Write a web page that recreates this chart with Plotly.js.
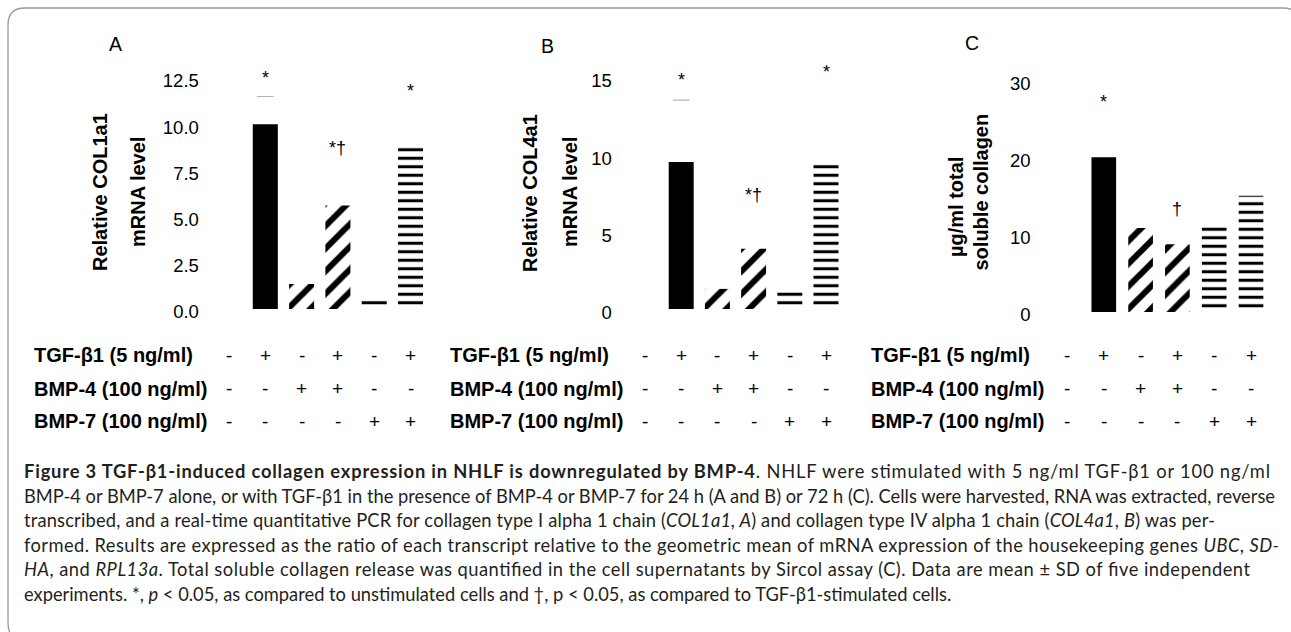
<!DOCTYPE html>
<html>
<head>
<meta charset="utf-8">
<script src="https://cdn.plot.ly/plotly-3.0.1.min.js"></script>
<style>
html,body{margin:0;padding:0;background:#ffffff;}
#chart{width:1291px;height:632px;}
</style>
</head>
<body>
<div id="chart"></div>
<script>
// ---------------- data ----------------
const conditions = ['Control', 'TGF-β1', 'BMP-4', 'TGF-β1 + BMP-4', 'BMP-7', 'TGF-β1 + BMP-7'];
const col1a1 = [null, 10.0, 1.35, 5.6, 0.6, 8.9];          // panel A, relative mRNA
const col1a1Cap = [null, 11.5, null, null, null, null];     // visible SD cap
const col4a1 = [null, 9.5, 1.3, 3.9, 1.3, 9.5];             // panel B, relative mRNA
const col4a1Cap = [null, 13.5, null, null, null, null];
const collagen = [null, 20.1, 10.9, 8.8, 11.4, 15.1];       // panel C, µg/ml
const sigA = ['', '*', '', '*†', '', '*'];
const sigB = ['', '*', '', '*†', '', '*'];
const sigC = ['', '*', '', '†', '', ''];
const tgfRow = ['-', '+', '-', '+', '-', '+'];
const bmp4Row = ['-', '-', '+', '+', '-', '-'];
const bmp7Row = ['-', '-', '-', '-', '+', '+'];
const rowLabels = ['TGF-β1 (5 ng/ml)', 'BMP-4 (100 ng/ml)', 'BMP-7 (100 ng/ml)'];
const ticksA = [0, 2.5, 5, 7.5, 10, 12.5];
const tickTextA = ['0.0', '2.5', '5.0', '7.5', '10.0', '12.5'];
const ticksB = [0, 5, 10, 15];
const ticksC = [0, 10, 20, 30];
const panelLetters = ['A', 'B', 'C'];
const captionLines = [
  '<b>Figure 3 TGF-β1-induced collagen expression in NHLF is downregulated by BMP-4</b>. NHLF were stimulated with 5 ng/ml TGF-β1 or 100 ng/ml',
  'BMP-4 or BMP-7 alone, or with TGF-β1 in the presence of BMP-4 or BMP-7 for 24 h (A and B) or 72 h (C). Cells were harvested, RNA was extracted, reverse',
  'transcribed, and a real-time quantitative PCR for collagen type I alpha 1 chain (<i>COL1a1, A</i>) and collagen type IV alpha 1 chain (<i>COL4a1</i>, <i>B</i>) was per-',
  'formed. Results are expressed as the ratio of each transcript relative to the geometric mean of mRNA expression of the housekeeping genes <i>UBC</i>, <i>SD-</i>',
  '<i>HA</i>, and <i>RPL13a</i>. Total soluble collagen release was quantified in the cell supernatants by Sircol assay (C). Data are mean ± SD of five independent',
  'experiments. *, <i>p</i> &lt; 0.05, as compared to unstimulated cells and †, p &lt; 0.05, as compared to TGF-β1-stimulated cells.'
];

// ---------------- styling ----------------
const W = 1291, H = 632;
const px = v => v / W;
const py = v => (H - v) / H;
const ARIAL = 'Arial, "Liberation Sans", sans-serif';
// bar style of each condition
const barStyle = ['none', 'solid', 'diag', 'diag', 'horiz', 'horiz'];
const styleDefs = {
  solid: {color: '#000000'},
  diag: {color: '#ffffff', pattern: {shape: '/', fgcolor: '#000000', bgcolor: '#ffffff', size: 16, solidity: 0.38}},
  horiz: {color: '#ffffff', pattern: {shape: '-', fgcolor: '#000000', bgcolor: '#ffffff', size: 8.5, solidity: 0.36}}
};

function barTraces(vals, xa, ya, w) {
  return ['solid', 'diag', 'horiz'].map(st => ({
    type: 'bar', x: conditions, y: vals.map((v, i) => barStyle[i] === st ? v : null),
    xaxis: xa, yaxis: ya, width: w,
    marker: Object.assign({line: {width: 0}}, styleDefs[st]),
    hoverinfo: 'skip', showlegend: false
  }));
}
function capTrace(vals, xa, ya) {
  return {
    type: 'scatter', mode: 'markers', x: conditions, y: vals, xaxis: xa, yaxis: ya,
    marker: {symbol: 'line-ew', size: 12, color: '#b5b5b5', line: {color: '#b5b5b5', width: 1.2}},
    hoverinfo: 'skip', showlegend: false
  };
}

const data = [].concat(
  barTraces(col1a1, 'x', 'y', 0.69),
  [capTrace(col1a1Cap, 'x', 'y')],
  barTraces(col4a1, 'x2', 'y2', 0.69),
  [capTrace(col4a1Cap, 'x2', 'y2')],
  barTraces(collagen, 'x3', 'y3', 0.67)
);

function xAxis(d0, d1, anchor) {
  return {domain: [px(d0), px(d1)], range: [-0.5, 5.5], type: 'category', categoryorder: 'array', categoryarray: conditions,
    showticklabels: false, showgrid: false, zeroline: false, showline: false, ticks: '', anchor: anchor, fixedrange: true};
}
function yAxis(bottom, top, range, tv, tt, standoff, shift, anchor) {
  return {domain: [py(bottom), py(top)], range: range, tickvals: tv, ticktext: tt, showgrid: false, zeroline: false,
    showline: false, ticks: '', ticklabelstandoff: standoff, ticklabelshift: shift, anchor: anchor,
    tickfont: {family: ARIAL, size: 18.5, color: '#000000'}, fixedrange: true};
}

const layout = {
  width: W, height: H, margin: {l: 0, r: 0, t: 0, b: 0}, barmode: 'overlay',
  paper_bgcolor: '#ffffff', plot_bgcolor: 'rgba(0,0,0,0)', showlegend: false, hovermode: false,
  xaxis: xAxis(210.85, 428.65, 'y'),
  yaxis: yAxis(309, 69, [0, 240 / 18.48], ticksA, tickTextA, 11, 3, 'x'),
  xaxis2: xAxis(626.9, 844.1, 'y2'),
  yaxis2: yAxis(309, 69, [0, 240 / 15.47], ticksB, ticksB.map(String), 14, 4, 'x2'),
  xaxis3: xAxis(1048.6, 1269.4, 'y3'),
  yaxis3: yAxis(312, 72, [0, 240 / 7.7], ticksC, ticksC.map(String), 17, 3, 'x3'),
  annotations: [],
  shapes: []
};

// rounded frame
(function () {
  const x0 = px(8), x1 = px(1300), y0 = py(8), y1 = py(640);
  const rx = 17 / W, ry = 17 / H;
  const p = `M${x0 + rx},${y0} L${x1 - rx},${y0} Q${x1},${y0} ${x1},${y0 - ry} L${x1},${y1 + ry} Q${x1},${y1} ${x1 - rx},${y1} ` +
            `L${x0 + rx},${y1} Q${x0},${y1} ${x0},${y1 + ry} L${x0},${y0 - ry} Q${x0},${y0} ${x0 + rx},${y0} Z`;
  layout.shapes.push({type: 'path', xref: 'paper', yref: 'paper', path: p, line: {color: '#9a9a9a', width: 1.3}, fillcolor: 'rgba(0,0,0,0)', layer: 'below'});
})();

const A = layout.annotations;
// significance marks
const sigPlace = [
  {marks: sigA, xr: 'x', yr: 'y', ys: [null, 12.5, null, 8.7, null, 11.8]},
  {marks: sigB, xr: 'x2', yr: 'y2', ys: [null, 14.8, null, 7.4, null, 15.3]},
  {marks: sigC, xr: 'x3', yr: 'y3', ys: [null, 27.3, null, 13.4, null, null]}
];
sigPlace.forEach(s => s.marks.forEach((m, i) => {
  if (!m) return;
  A.push({xref: s.xr, yref: s.yr, x: conditions[i], y: s.ys[i], text: m, showarrow: false,
    xanchor: 'center', yanchor: 'middle', font: {family: ARIAL, size: 18, color: '#000000'}});
}));

// panel letters
[[115.5, 44], [547, 46], [972, 43]].forEach((p, i) => {
  A.push({xref: 'paper', yref: 'paper', x: px(p[0]), y: py(p[1]), text: panelLetters[i], showarrow: false,
    xanchor: 'center', yanchor: 'middle', font: {family: ARIAL, size: 19.5, color: '#000000'}});
});

// y-axis titles (two rotated lines each)
const titleFont = {family: ARIAL, size: 20, color: '#000000'};
[
  ['Relative COL1a1', 100, 192], ['mRNA level', 138, 192],
  ['Relative COL4a1', 530, 193], ['mRNA level', 570, 192],
  ['µg/ml total', 956, 207], ['soluble collagen', 981, 192.5]
].forEach(t => {
  A.push({xref: 'paper', yref: 'paper', x: px(t[1]), y: py(t[2]), text: '<b>' + t[0] + '</b>', textangle: -90,
    showarrow: false, xanchor: 'center', yanchor: 'middle', font: titleFont});
});

// treatment table
const rowsY = [355, 389, 421];
const rows = [tgfRow, bmp4Row, bmp7Row];
[['x', 32], ['x2', 448], ['x3', 869]].forEach(pan => {
  rows.forEach((row, r) => {
    A.push({xref: 'paper', yref: 'paper', x: px(pan[1]), y: py(rowsY[r]), text: '<b>' + rowLabels[r] + '</b>',
      showarrow: false, xanchor: 'left', yanchor: 'middle', font: {family: ARIAL, size: 20, color: '#000000'}});
    row.forEach((s, i) => {
      A.push({xref: pan[0], yref: 'paper', x: conditions[i], y: py(rowsY[r]), text: s, showarrow: false,
        xanchor: 'center', yanchor: 'middle', font: {family: ARIAL, size: 19, color: '#000000'}});
    });
  });
});

// caption
const capY = [471, 495.5, 520, 544.5, 569, 593.5];
const capRight = [1268, 1273, 1213, 1277, 1248, null];   // right end of each justified line
const capStart = A.length;
const CAP_FONT = 18;
captionLines.forEach((t, i) => {
  A.push({xref: 'paper', yref: 'paper', x: px(22), y: py(capY[i]), text: t, showarrow: false,
    xanchor: 'left', yanchor: 'middle', align: 'left', font: {family: 'Lato, "Open Sans", sans-serif', size: CAP_FONT, color: '#231f20'}});
});

function capText(gd, i) {
  return gd.querySelector('.annotation[data-index="' + (capStart + i) + '"] text.annotation-text');
}

Plotly.newPlot('chart', data, layout, {staticPlot: true, displayModeBar: false}).then(gd => {
  // scale caption font so that line 2 spans its measured width
  const t2 = capText(gd, 1);
  if (!t2) return;
  const w2 = t2.getComputedTextLength();
  const target = capRight[1] - 22;
  const size = CAP_FONT * target / w2;
  const upd = {};
  captionLines.forEach((_, i) => { upd['annotations[' + (capStart + i) + '].font.size'] = size; });
  return Plotly.relayout(gd, upd).then(() => {
    captionLines.forEach((_, i) => {
      if (!capRight[i]) return;
      const el = capText(gd, i);
      if (!el) return;
      el.setAttribute('textLength', capRight[i] - 22);
      el.setAttribute('lengthAdjust', 'spacing');
    });
  });
});
</script>
</body>
</html>
